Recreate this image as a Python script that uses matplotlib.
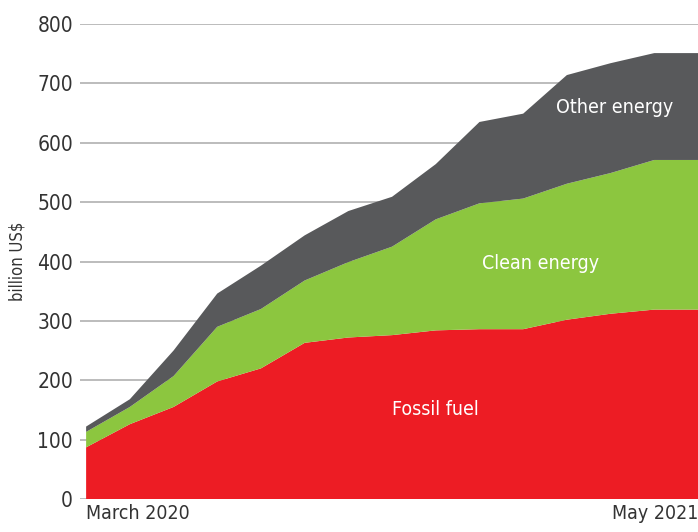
import matplotlib
matplotlib.use("Agg")
import matplotlib.pyplot as plt

months = ["Mar 2020", "Apr 2020", "May 2020", "Jun 2020", "Jul 2020", "Aug 2020",
          "Sep 2020", "Oct 2020", "Nov 2020", "Dec 2020", "Jan 2021", "Feb 2021",
          "Mar 2021", "Apr 2021", "May 2021"]
# cumulative stacked totals
fossil_top = [87, 126, 155, 198, 220, 263, 272, 276, 284, 286, 286, 302, 312, 319, 319]
clean_top = [113, 155, 207, 290, 320, 368, 399, 425, 471, 498, 506, 531, 549, 571, 571]
other_top = [122, 168, 250, 346, 393, 444, 485, 509, 564, 635, 649, 714, 734, 751, 751]

fossil = fossil_top
clean = [c - f for c, f in zip(clean_top, fossil_top)]
other = [o - c for o, c in zip(other_top, clean_top)]

yticks = [0, 100, 200, 300, 400, 500, 600, 700, 800]
start_label = "March 2020"
end_label = "May 2021"

plt.rcParams["font.family"] = ["DejaVu Sans"]
plt.rcParams["font.stretch"] = "condensed"

fig = plt.figure(figsize=(6.98, 5.32), dpi=100)
ax = fig.add_axes([80 / 698, 33 / 532, 618 / 698, 475 / 532])

x = list(range(len(months)))
ax.stackplot(x, fossil, clean, other,
             colors=["#ED1C24", "#8CC63F", "#58595B"], linewidth=0, zorder=2)

ax.set_xlim(-0.14, len(months) - 1)
ax.set_ylim(0, 800)
ax.set_yticks(yticks)
ax.set_yticklabels([str(v) for v in yticks], fontsize=15, color="#333333")
ax.tick_params(axis="y", length=0, pad=5)
ax.set_xticks([])
ax.grid(axis="y", color="#AAAAAA", linewidth=1.1, zorder=1)
for s in ax.spines.values():
    s.set_visible(False)
ax.set_ylabel("billion US$", fontsize=12, color="#333333")
ax.yaxis.set_label_coords(-0.086, 0.5)

ax.text(0, -8, start_label, ha="left", va="top", fontsize=14, color="#333333",
        clip_on=False)
ax.text(len(months) - 1, -8, end_label, ha="right", va="top", fontsize=14,
        color="#333333", clip_on=False)

ax.text(12.1, 660, "Other energy", ha="center", va="center", color="white", fontsize=14)
ax.text(10.4, 396, "Clean energy", ha="center", va="center", color="white", fontsize=14)
ax.text(8, 150, "Fossil fuel", ha="center", va="center", color="white", fontsize=14)

fig.savefig("out.png", dpi=100)
